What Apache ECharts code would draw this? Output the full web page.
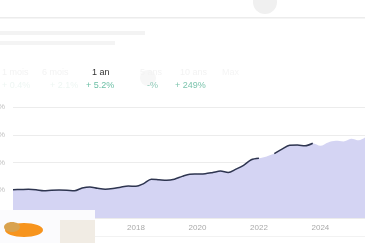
<!DOCTYPE html>
<html><head><meta charset="utf-8">
<script src="https://cdn.jsdelivr.net/npm/echarts@6/dist/echarts.min.js"></script>
<style>html,body{margin:0;padding:0;background:#fff;}#c{width:365px;height:243px;}</style>
</head><body><div id="c"></div>
<script>
const periods = [2014.0,2014.25,2014.5,2014.75,2015.0,2015.25,2015.5,2015.75,2016.0,2016.25,2016.5,2016.75,2017.0,2017.25,2017.5,2017.75,2018.0,2018.25,2018.5,2018.75,2019.0,2019.25,2019.5,2019.75,2020.0,2020.25,2020.5,2020.75,2021.0,2021.25,2021.5,2021.75,2022.0,2022.25,2022.5,2022.75,2023.0,2023.25,2023.5,2023.75,2024.0,2024.25,2024.5,2024.75,2025.0,2025.25,2025.5];
const areaValues = [1,1.3,1.6,0.8,-0.8,0,0.4,0,-1,4,6,3.5,1.8,3,5.5,7.5,7,12,20,19,18,20,25,29,29.3,29.8,32,34.5,32,38,45,55,57.6,61,66,74,81,81.5,80,84.6,80,86,89,88,93,90,97];
const lineValues = [1,1.3,1.6,0.8,-0.8,0,0.4,0,-1,4,6,3.5,1.8,3,5.5,7.5,7,12,20,19,18,20,25,29,29.3,29.8,32,34.5,32,38,45,55,57.6,null,66,74,81,81.5,80,84.6];
const yTicks = [-50,0,50,100,150];
const xLabels = ['2018','2020','2022','2024'];
const headLabels = ['1 mois','6 mois','1 an','5 ans','10 ans','Max'];
const headValues = ['+ 0.4%','+ 2.1%','+ 5.2%','-%','+ 249%',''];

const chart = echarts.init(document.getElementById('c'));
const pair = (xs, ys) => ys.map((v,i)=>[xs[i], v]);
const hx = [2,42,92,140,180,222];
const hc = ['#f3f3f3','#f3f3f3','#333','#f3f3f3','#f3f3f3','#f5f5f5'];
const vx = [2,50,86,147,175,222];
const vc = ['#eef6f3','#eef6f3','#6bbfa5','#8fcab8','#7cc4ad','#fff'];
const graphics = [
  {type:'rect',shape:{x:0,y:17,width:365,height:1.5},style:{fill:'#ececec'},z:1},
  {type:'rect',shape:{x:0,y:236,width:365,height:1},style:{fill:'#f2f2f2'},z:1},
  {type:'rect',shape:{x:0,y:31,width:145,height:4},style:{fill:'#f3f3f3'},z:1},
  {type:'rect',shape:{x:0,y:41,width:115,height:4},style:{fill:'#f4f4f4'},z:1},
  {type:'circle',shape:{cx:265,cy:2,r:12},style:{fill:'#f0f0f0'},z:1},
  {type:'circle',shape:{cx:148,cy:78,r:8},style:{fill:'#f7f7f7'},z:1}
];
headLabels.forEach((t,i)=>{
  graphics.push({type:'text',x:hx[i],y:68,style:{text:t,fill:hc[i],font:'9px "Liberation Sans", Arial'},z:5});
  graphics.push({type:'text',x:vx[i],y:81,style:{text:headValues[i],fill:vc[i],font:'9px "Liberation Sans", Arial'},z:5});
});
graphics.push(
  {type:'rect',shape:{x:0,y:210,width:95,height:33},style:{fill:'#fbfbfd'},z:100},
  {type:'rect',shape:{x:60,y:220,width:35,height:23},style:{fill:'#f1ece4'},z:101},
  {type:'ellipse',shape:{cx:24,cy:230,rx:19,ry:7},style:{fill:'#f7941d'},z:102},
  {type:'ellipse',shape:{cx:12,cy:227,rx:8,ry:5},style:{fill:'#d9a24e'},z:103}
);

chart.setOption({
  animation:false,
  grid:{left:13,right:0,top:107,bottom:25,containLabel:false,outerBoundsMode:'none'},
  xAxis:{type:'value',min:2014,max:2025.45,interval:2,
    axisLine:{show:false},axisTick:{show:false},splitLine:{show:false},
    axisLabel:{color:'#aaa',fontSize:8,margin:6,showMaxLabel:false,
      formatter:v=>xLabels.includes(String(v))?String(v):''}},
  yAxis:{type:'value',min:yTicks[0],max:yTicks[yTicks.length-1],interval:50,
    axisLine:{show:false},axisTick:{show:false},
    splitLine:{lineStyle:{color:'#ececec',width:1}},
    axisLabel:{color:'#c4c4c4',fontSize:8,margin:8,formatter:v=>v+'%'}},
  graphic:graphics,
  series:[
    {type:'line',data:pair(periods,areaValues),smooth:0.3,showSymbol:false,
      lineStyle:{width:0},areaStyle:{color:'#d4d4f3',opacity:1,origin:'start'},z:2},
    {type:'line',data:pair(periods,lineValues),smooth:0.3,showSymbol:false,connectNulls:false,
      lineStyle:{color:'#2e3550',width:1.5},z:3}
  ]
});
</script></body></html>
